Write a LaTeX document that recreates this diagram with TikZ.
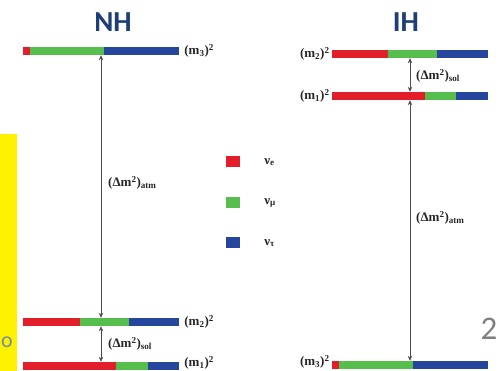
\documentclass[tikz,border=0pt]{standalone}
\usepackage{fontspec}
\setmainfont{Liberation Serif}
\newfontfamily\titlefont{Carlito}
\usetikzlibrary{arrows.meta, positioning}

\definecolor{nured}{RGB}{226,30,42}
\definecolor{numu}{RGB}{86,190,76}
\definecolor{nutau}{RGB}{38,70,158}
\definecolor{titleblue}{RGB}{30,62,120}
\definecolor{pagegrey}{RGB}{120,140,165}

\begin{document}
\begin{tikzpicture}[x=1pt, y=-1pt]
    % styles for the levels
    \tikzstyle{bar} = [rectangle, minimum width=156pt, minimum height=8pt, inner sep=0pt]
    \tikzstyle{level} = [font=\fontsize{13}{13}\selectfont\bfseries, text=black!85, inner sep=2pt]
    \tikzstyle{gap} = [draw=black!70, semithick, {Stealth[length=5pt,width=4.5pt]}-{Stealth[length=5pt,width=4.5pt]}]
    \tikzstyle{key} = [rectangle, minimum width=14pt, minimum height=11pt, inner sep=0pt]
    \tikzstyle{title} = [font=\titlefont\bfseries\fontsize{29}{29}\selectfont, text=titleblue]

    \useasboundingbox (0,0) rectangle (499,371);

    % slide remains
    \fill[yellow] (0,134) rectangle (17,371);
    \node (slidetext) [font=\titlefont\fontsize{22}{22}\selectfont, text=pagegrey, inner sep=0pt] at (7,342) {o};
    \node (pagenum) [font=\titlefont\fontsize{33}{33}\selectfont, text=gray, inner sep=0pt] at (489,329) {2};

    % titles
    \node (nh) [title] at (113,22) {NH};
    \node (ih) [title] at (406,22) {IH};

    % normal hierarchy
    \node (nh3) [bar] at (101,51) {};
    \node (nh2) [bar] at (101,322) {};
    \node (nh1) [bar] at (101,366) {};

    % inverted hierarchy
    \node (ih2) [bar] at (410,54) {};
    \node (ih1) [bar] at (410,96) {};
    \node (ih3) [bar] at (410,365) {};

    % flavour content of each level
    \foreach \lv/\nr/\ng in {nh3/7/74, nh2/57/49, nh1/93/32, ih2/56/49, ih1/93/31, ih3/7/74}{
        \fill[nutau] (\lv.north west) rectangle (\lv.south east);
        \fill[numu] (\lv.north west) rectangle ([xshift={(\nr+\ng)*1pt}]\lv.south west);
        \fill[nured] (\lv.north west) rectangle ([xshift={\nr*1pt}]\lv.south west);
    }

    % mass labels
    \node [level, right=3pt of nh3] {(m\textsubscript{3})\textsuperscript{2}};
    \node [level, right=3pt of nh2] {(m\textsubscript{2})\textsuperscript{2}};
    \node [level, right=3pt of nh1, yshift=3pt] {(m\textsubscript{1})\textsuperscript{2}};
    \node [level, left=0pt of ih2] {(m\textsubscript{2})\textsuperscript{2}};
    \node [level, left=0pt of ih1] {(m\textsubscript{1})\textsuperscript{2}};
    \node [level, left=0pt of ih3, yshift=3pt] {(m\textsubscript{3})\textsuperscript{2}};

    % splittings
    \draw [gap] (nh3.south) -- (nh2.north);
    \draw [gap] (nh2.south) -- (nh1.north);
    \draw [gap] (ih2.south) -- (ih1.north);
    \draw [gap] (ih1.south) -- (ih3.north);

    \node (atmnh) [level, anchor=west] at (106,183) {(Δm\textsuperscript{2})\textsubscript{atm}};
    \node (solnh) [level, anchor=west] at (106,344) {(Δm\textsuperscript{2})\textsubscript{sol}};
    \node (solih) [level, anchor=west] at (414,76) {(Δm\textsuperscript{2})\textsubscript{sol}};
    \node (atmih) [level, anchor=west] at (414,218) {(Δm\textsuperscript{2})\textsubscript{atm}};

    % legend
    \node (ke) [key, fill=nured] at (233,162) {};
    \node (kmu) [key, fill=numu] at (233,203) {};
    \node (ktau) [key, fill=nutau] at (233,243) {};
    \node [level, right=22pt of ke] {ν\textsubscript{e}};
    \node [level, right=22pt of kmu] {ν\textsubscript{μ}};
    \node [level, right=22pt of ktau] {ν\textsubscript{τ}};

\end{tikzpicture}
\end{document}
